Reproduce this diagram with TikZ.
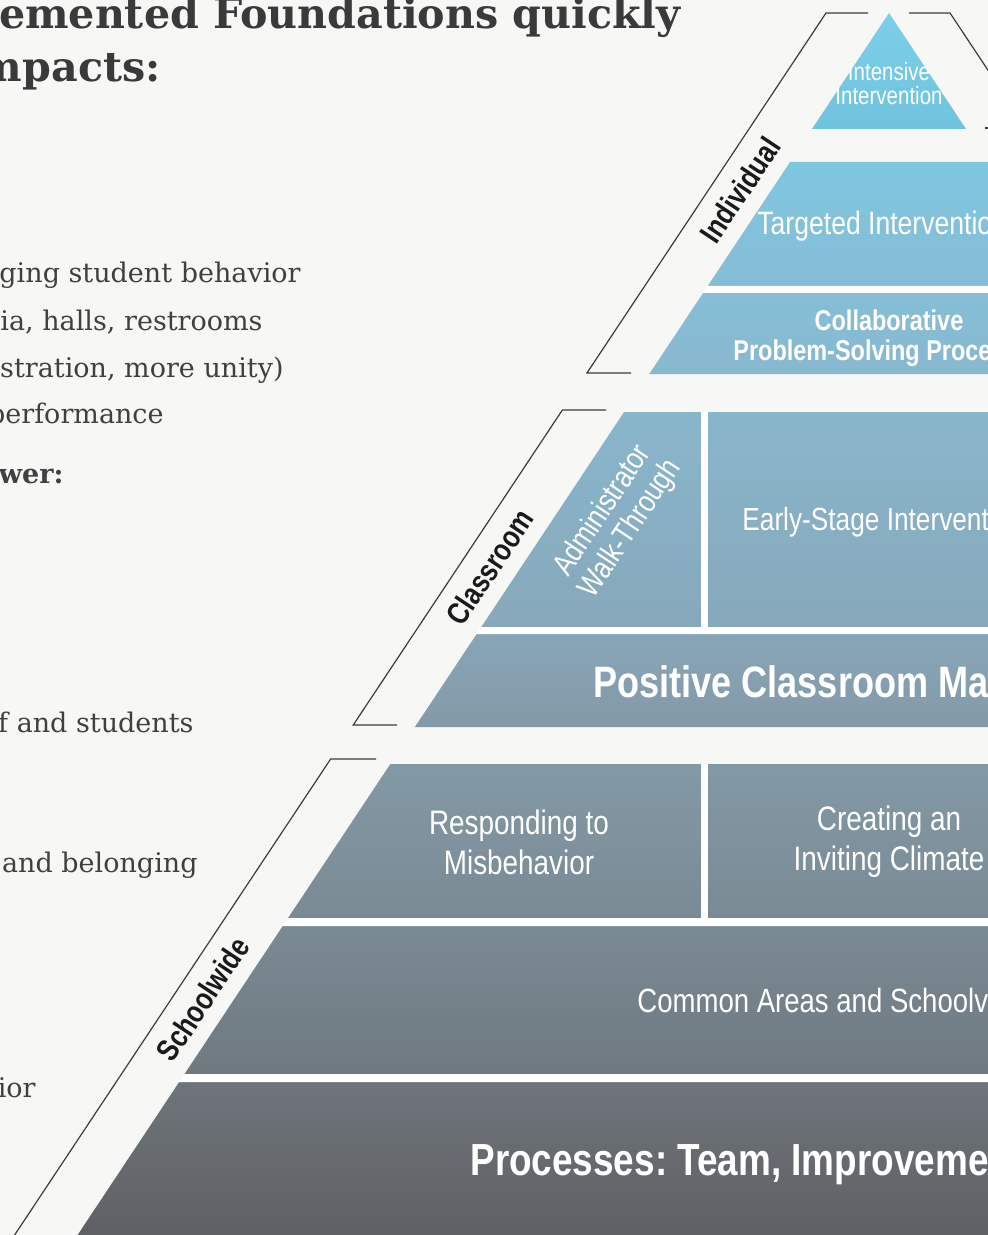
\documentclass[tikz,border=0pt]{standalone}
\usepackage{fontspec}
\setmainfont{DejaVu Serif}
\newfontfamily\pyrfont[FakeStretch=0.82]{Liberation Sans}
\usetikzlibrary{positioning}
\frenchspacing

\definecolor{pagebg}{HTML}{F7F7F5}
\definecolor{bodyink}{HTML}{404040}
\definecolor{headink}{HTML}{3A3A3A}
\definecolor{ruleink}{HTML}{3C3C3C}
\definecolor{labelink}{HTML}{1A1A1A}
% tier colours, top to bottom
\definecolor{tierA}{HTML}{7BCFE8}
\definecolor{tierAb}{HTML}{70C3DE}
\definecolor{tierB}{HTML}{7FC6E0}
\definecolor{tierBb}{HTML}{86BDD6}
\definecolor{tierC}{HTML}{86BED7}
\definecolor{tierCb}{HTML}{88B8CF}
\definecolor{tierD}{HTML}{89B6CC}
\definecolor{tierDb}{HTML}{87A8BA}
\definecolor{tierE}{HTML}{87A6B8}
\definecolor{tierEb}{HTML}{8499A7}
\definecolor{tierF}{HTML}{8399A6}
\definecolor{tierFb}{HTML}{7A8A94}
\definecolor{tierG}{HTML}{7A8A94}
\definecolor{tierGb}{HTML}{6F7980}
\definecolor{tierH}{HTML}{6E757B}
\definecolor{tierHb}{HTML}{5E5F63}

\tikzset{
  headtext/.style={anchor=base east, inner sep=0pt, text=headink,
    font=\bfseries\fontsize{20.6}{20.6}\selectfont},
  bodytext/.style={anchor=base east, inner sep=0pt, text=bodyink,
    font=\fontsize{13.5}{13.5}\selectfont},
  tiertext/.style={inner sep=0pt, text=white, align=center},
  sidelabel/.style={inner sep=0pt, text=labelink, rotate=56.4,
    font=\pyrfont\bfseries\fontsize{15.5}{15.5}\selectfont},
  bracket/.style={draw=ruleink, line width=0.6pt},
}

\begin{document}
\begin{tikzpicture}[x=0.5pt, y=-0.5pt,
  declare function={lx(\t)=889-0.664*(\t-13); bx(\t)=826-0.664*(\t-13);}]
\useasboundingbox (0,0) rectangle (988,1235);
\fill[pagebg] (0,0) rectangle (988,1235);

% text on the left
\node[headtext] (head1) at (681,29) {emented Foundations quickly};
\node[headtext] (head2) at (161,82) {mpacts:};
\node[bodytext] (line1) at (301,283) {ging student behavior};
\node[bodytext] (line2) at (263,330) {ia, halls, restrooms};
\node[bodytext] (line3) at (284,377) {stration, more unity)};
\node[bodytext] (line4) at (164,423) {performance};
\node[bodytext, font=\bfseries\fontsize{13.5}{13.5}\selectfont] (fewer) at (64,483) {ewer:};
\node[bodytext] (line5) at (194,732) {f and students};
\node[bodytext] (line6) at (198,872) {and belonging};
\node[bodytext] (line7) at (36,1097) {ior};

% pyramid tiers
\shade[top color=tierA, bottom color=tierAb]
  (889,13) -- ({lx(129)},129) -- ({1778-lx(129)},129) -- cycle;
\foreach \ya/\yb/\ctop/\cbot in {162/286/tierB/tierBb, 293/374/tierC/tierCb,
    412/627/tierD/tierDb, 634/727/tierE/tierEb, 764/918/tierF/tierFb,
    926/1074/tierG/tierGb, 1082/1240/tierH/tierHb}
  \shade[top color=\ctop, bottom color=\cbot]
    ({lx(\ya)},\ya) -- (1000,\ya) -- (1000,\yb) -- ({lx(\yb)},\yb) -- cycle;
\foreach \ya/\yb in {286/293, 627/634, 918/926, 1074/1082}
  \fill[white] ({lx(\ya)},\ya) -- (1000,\ya) -- (1000,\yb) -- ({lx(\yb)},\yb) -- cycle;
\foreach \ya/\yb in {412/627, 764/918}
  \fill[white] (701,\ya) rectangle (708,\yb);

% brackets
\draw[bracket] (868,13) -- (826,13) -- ({bx(373)},373) -- (631,373);
\draw[bracket] (606,410) -- ({bx(410)},410) -- ({bx(725)},725) -- (397,725);
\draw[bracket] (376,759) -- ({bx(759)},759) -- ({bx(1250)},1250);
\draw[bracket] (909,13) -- (950,13) -- ({950+0.664*187},200);
\draw[bracket] (985,128) -- (995,128);

\node[sidelabel] (indiv) at ({lx(190)-31.5},190) {Individual};
\node[sidelabel] (clsrm) at ({lx(567)-31.5},567) {Classroom};
\node[sidelabel] (schwd) at ({lx(999)-31.5},999) {Schoolwide};

% tier texts
\node[tiertext, font=\pyrfont\fontsize{12.5}{12}\selectfont] (intense) at (889,84)
  {Intensive\\Intervention};
\node[tiertext, anchor=base west, font=\pyrfont\fontsize{16.2}{16.2}\selectfont]
  (target) at (757,235) {Targeted Interventio};
\node[tiertext, anchor=base, font=\pyrfont\bfseries\fontsize{14.3}{14.3}\selectfont]
  (collab) at (889,330) {Collaborative};
\node[tiertext, anchor=base west, font=\pyrfont\bfseries\fontsize{14.3}{14.3}\selectfont]
  (problem) at (733,360) {Problem-Solving Proce};
\node[tiertext, rotate=56.4, font=\pyrfont\fontsize{15.5}{16.5}\selectfont] (admin)
  at (617,520) {Administrator\\Walk-Through};
\node[tiertext, anchor=base west, font=\pyrfont\fontsize{16}{16}\selectfont]
  (early) at (742,530) {Early-Stage Intervent};
\node[tiertext, anchor=base west, font=\pyrfont\bfseries\fontsize{22}{22}\selectfont]
  (positive) at (593,697) {Positive Classroom Ma};
\node[tiertext, font=\pyrfont\fontsize{17}{20}\selectfont] (respond) at (519,842)
  {Responding to\\Misbehavior};
\node[tiertext, font=\pyrfont\fontsize{17}{20}\selectfont] (climate) at (889,842)
  {Creating an\\Inviting Climate};
\node[tiertext, anchor=base west, font=\pyrfont\fontsize{16.8}{16.8}\selectfont]
  (common) at (637,1012) {Common Areas and Schoolv};
\node[tiertext, anchor=base west, font=\pyrfont\bfseries\fontsize{22.5}{22.5}\selectfont]
  (process) at (470,1175) {Processes: Team, Improveme};
\end{tikzpicture}
\end{document}
